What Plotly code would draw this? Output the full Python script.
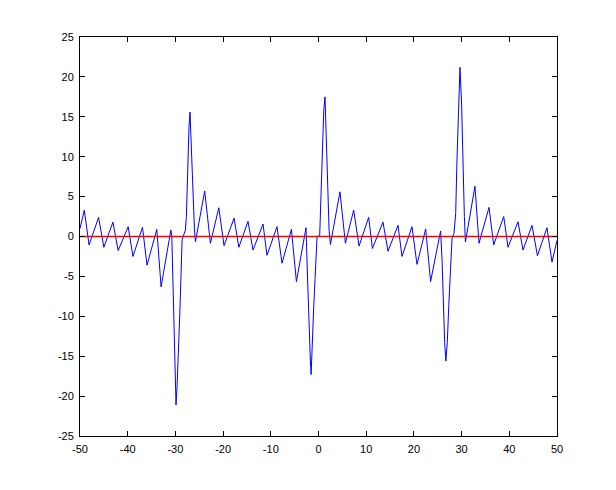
import plotly.graph_objects as go

# vertices of the blue trace
x_sig = [-50, -49.1, -48.1,
         -46.1, -45.0, -43.1, -42.0, -39.9, -38.9, -36.9, -35.95, -33.9, -33.0, -30.95,
         -30.75, -30.5, -30.3, -30.1, -29.95, -29.87, -29.65, -29.45, -29.1, -28.83, -28.6,
         -28.26, -27.9, -27.7, -27.57, -27.36, -27.15, -26.94, -26.65, -26.3, -26.0, -25.8,
         -23.86, -22.66, -20.9, -19.8, -17.7, -16.7, -14.78, -13.73, -11.63, -10.8,
         -8.7, -7.65, -5.68, -4.63, -2.62,
         -2.35, -2.0, -1.7, -1.55, -1.28, -1.0, -0.73, -0.43, -0.3, 0.25, 0.53, 0.82,
         1.1, 1.37, 1.66, 1.94, 2.22, 2.5,
         4.5, 5.64, 7.38, 8.5, 10.52, 11.3, 13.52, 14.57, 16.67, 17.5, 19.6, 20.65,
         22.47, 23.5, 25.6,
         25.9, 26.1, 26.45, 26.7, 27.0, 27.3, 27.65, 28.0, 28.4, 28.76, 29.03, 29.33,
         29.66, 30.0, 30.3, 30.58, 30.8,
         32.8, 33.65, 35.75, 36.73, 38.83, 39.73, 41.83, 42.87, 44.76, 45.9, 47.9,
         48.95, 50]
y_sig = [1.0, 3.3, -1.06,
         2.4, -1.35, 1.8, -1.77, 1.23, -2.5, 1.15, -3.6, 0.9, -6.3, 0.8,
         0.0, -6.3, -11.3, -14.6, -18.8, -21.1, -18.8, -14.6, -10.0, -5.0, -0.4,
         0.2, 0.8, 2.5, 6.2, 10.4, 13.7, 15.6, 10.8, 4.6, 0.8, -0.65,
         5.7, -0.85, 3.6, -1.15, 2.3, -1.35, 1.9, -1.7, 1.56, -2.36,
         1.23, -3.35, 0.9, -5.65, 1.1,
         -4.2, -11.7, -15.6, -17.3, -12.1, -8.8, -5.4, -1.3, 0.0, 0.1, 5.0, 10.8,
         15.8, 17.5, 12.1, 5.4, 0.8, -1.0,
         5.6, -0.85, 3.3, -1.2, 2.4, -1.5, 1.8, -1.85, 1.4, -2.5, 1.23, -3.5,
         0.94, -5.65, 0.7,
         -2.9, -7.1, -13.3, -15.6, -13.3, -8.8, -3.35, -0.2, 0.4, 2.9, 9.6, 16.6,
         21.2, 16.6, 8.3, 2.5, -0.7,
         6.3, -0.85, 3.65, -1.06, 2.5, -1.35, 1.85, -1.7, 1.4, -2.4, 1.1,
         -3.2, -0.5]

x_zero = [-50, 50]
y_zero = [0, 0]

x_ticks = [-50, -40, -30, -20, -10, 0, 10, 20, 30, 40, 50]
x_labels = ['-50', '-40', '-30', '-20', '-10', '0', '10', '20', '30', '40', '50']
y_ticks = [-25, -20, -15, -10, -5, 0, 5, 10, 15, 20, 25]
y_labels = ['-25', '-20', '-15', '-10', '-5', '0', '5', '10', '15', '20', '25']

fig = go.Figure()
fig.add_trace(go.Scatter(x=x_sig, y=y_sig, mode='lines',
                         line=dict(color='#0000ff', width=1)))
fig.add_trace(go.Scatter(x=x_zero, y=y_zero, mode='lines',
                         line=dict(color='#ff0000', width=1.5)))

axis_style = dict(showline=True, linecolor='black', linewidth=1, mirror='allticks',
                  ticks='inside', ticklen=5, tickcolor='black', showgrid=False,
                  zeroline=False, ticklabelstandoff=3,
                  tickfont=dict(family='Liberation Sans', size=11, color='black'))

fig.update_xaxes(range=[-50, 50], tickvals=x_ticks, ticktext=x_labels, **axis_style)
fig.update_yaxes(range=[-25, 25], tickvals=y_ticks, ticktext=y_labels, **axis_style)

# page body adds 8px, so margins are shifted to land the axes where the reference has them
fig.update_layout(width=616, height=490, showlegend=False,
                  paper_bgcolor='white', plot_bgcolor='white',
                  margin=dict(l=72, r=67, t=29, b=62))

fig.write_html("out.html")
